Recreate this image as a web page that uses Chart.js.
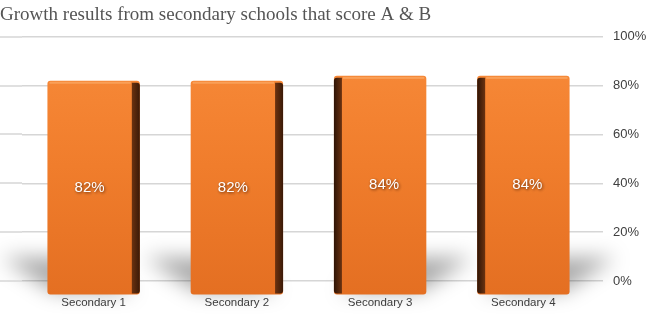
<!DOCTYPE html>
<html>
<head>
<meta charset="utf-8">
<script src="https://cdn.jsdelivr.net/npm/chart.js@4"></script>
<style>
  html, body { margin: 0; padding: 0; background: #fff; }
  #wrap { width: 652px; height: 320px; }
</style>
</head>
<body>
<div id="wrap"><canvas id="growthChart" width="652" height="320"></canvas></div>
<script>
// Data
const chartTitle = 'Growth results from secondary schools that score A & B'
const schools = ['Secondary 1', 'Secondary 2', 'Secondary 3', 'Secondary 4']
const scoreAB = [82, 82, 84, 84]
const yTicks = [0, 20, 40, 60, 80, 100]

const gridColor = '#d6d6d6'

// soft floor shadow behind each bar, cast outward from the middle
const floorShadow = {
  id: 'floorShadow',
  beforeDatasetsDraw(chart) {
    const ctx = chart.ctx
    const bars = chart.getDatasetMeta(0).data
    ctx.save()
    ctx.filter = 'blur(10px)'
    ctx.fillStyle = 'rgba(0,0,0,0.34)'
    bars.forEach((bar, i) => {
      const left = bar.x - bar.width / 2, right = bar.x + bar.width / 2
      const shift = i < bars.length / 2 ? -46 : 46
      const b = bar.base - 3
      ctx.beginPath()
      ctx.moveTo(left + 6, b)
      ctx.lineTo(right - 6, b)
      ctx.lineTo(right + shift, b - 34)
      ctx.lineTo(left + shift, b - 34)
      ctx.closePath()
      ctx.fill()
    })
    ctx.restore()
  }
}

// gridlines run to the left edge of the canvas
const gridToEdge = {
  id: 'gridToEdge',
  beforeDatasetsDraw(chart) {
    const ctx = chart.ctx, y = chart.scales.y
    ctx.save()
    ctx.strokeStyle = gridColor
    ctx.lineWidth = 1.5
    yTicks.forEach(v => {
      const py = Math.round(y.getPixelForValue(v))
      ctx.beginPath()
      ctx.moveTo(0, py)
      ctx.lineTo(chart.chartArea.left, py)
      ctx.stroke()
    })
    ctx.restore()
  }
}

// side faces + value labels
const barDecor = {
  id: 'barDecor',
  afterDatasetsDraw(chart) {
    const ctx = chart.ctx
    const bars = chart.getDatasetMeta(0).data
    ctx.save()
    bars.forEach((bar, i) => {
      const left = bar.x - bar.width / 2, right = bar.x + bar.width / 2
      const top = bar.y, bottom = bar.base
      const onLeft = i >= bars.length / 2
      const sx = onLeft ? left : right - 8
      const g = ctx.createLinearGradient(sx, 0, sx + 8, 0)
      if (onLeft) { g.addColorStop(0, '#2e1406'); g.addColorStop(1, '#6b3210') }
      else { g.addColorStop(0, '#6b3210'); g.addColorStop(1, '#3a1907') }
      ctx.fillStyle = g
      ctx.beginPath()
      ctx.roundRect(sx, top + 2, 8, bottom - top - 3, onLeft ? [3, 0, 0, 3] : [0, 3, 3, 0])
      ctx.fill()
      // top highlight
      ctx.fillStyle = 'rgba(255,190,130,0.45)'
      ctx.fillRect(left + (onLeft ? 9 : 2), top + 1, bar.width - 11, 2)

      ctx.font = '15px "Liberation Sans", Arial, sans-serif'
      ctx.textAlign = 'center'
      ctx.textBaseline = 'middle'
      ctx.shadowColor = 'rgba(60,20,0,0.8)'
      ctx.shadowBlur = 3
      ctx.shadowOffsetX = 1
      ctx.shadowOffsetY = 1
      ctx.fillStyle = '#ffffff'
      const cx = bar.x + (onLeft ? 4 : -4)
      ctx.fillText(scoreAB[i] + '%', cx, (top + bottom) / 2)
      ctx.shadowColor = 'transparent'
    })
    ctx.restore()
  }
}

function barFill(context) {
  const area = context.chart.chartArea
  if (!area) return '#f07f2e'
  const g = context.chart.ctx.createLinearGradient(0, area.top, 0, area.bottom + 14)
  g.addColorStop(0, '#f88b3a')
  g.addColorStop(0.5, '#f07d2c')
  g.addColorStop(1, '#e46f22')
  return g
}

new Chart(document.getElementById('growthChart'), {
  type: 'bar',
  data: {
    labels: schools,
    datasets: [{
      label: 'Score A & B',
      data: scoreAB,
      base: -5.5,
      clip: false,
      backgroundColor: barFill,
      borderRadius: 3,
      borderSkipped: false,
      barPercentage: 0.645,
      categoryPercentage: 1
    }]
  },
  options: {
    responsive: false,
    animation: false,
    layout: { padding: 0 },
    plugins: {
      legend: { display: false },
      tooltip: { enabled: false },
      title: {
        display: true,
        text: chartTitle,
        align: 'start',
        color: '#555555',
        font: { family: '"Liberation Serif", "Times New Roman", serif', size: 19, weight: 'normal' },
        padding: { top: 4, bottom: 10 }
      }
    },
    scales: {
      x: {
        offset: true,
        grid: { display: false, drawTicks: false },
        border: { display: false },
        afterFit(axis) { axis.height = 39 },
        ticks: {
          padding: 15,
          color: '#404040',
          font: { family: '"Liberation Sans", Arial, sans-serif', size: 11.5 }
        }
      },
      y: {
        position: 'right',
        min: 0,
        max: 100,
        afterBuildTicks(axis) { axis.ticks = yTicks.map(v => ({ value: v })) },
        afterFit(axis) { axis.width = 57 },
        grid: { color: gridColor, lineWidth: 1.5, tickLength: 8 },
        border: { display: false },
        ticks: {
          padding: 10,
          color: '#404040',
          font: { family: '"Liberation Sans", Arial, sans-serif', size: 13 },
          callback: v => v + '%'
        }
      },
      // empty spacer on the left so the bars sit where the original has them
      yLeft: {
        position: 'left',
        display: true,
        grid: { display: false, drawTicks: false },
        border: { display: false },
        ticks: { display: false },
        afterFit(axis) { axis.width = 22 }
      }
    }
  },
  plugins: [floorShadow, gridToEdge, barDecor]
})
</script>
</body>
</html>
